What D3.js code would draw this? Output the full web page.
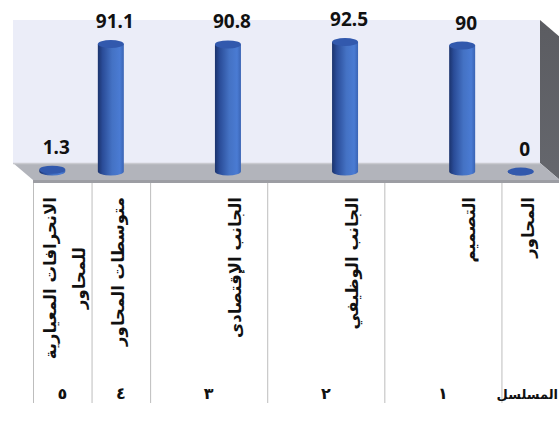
<!DOCTYPE html>
<html>
<head>
<meta charset="utf-8">
<script src="https://cdn.jsdelivr.net/npm/d3@7"></script>
<style>
  html, body { margin: 0; padding: 0; background: #fff; }
  svg { display: block; }
  .val { font-family: "Noto Sans", "Open Sans", sans-serif; font-weight: bold; font-size: 19px; fill: #111; }
  .cat { font-family: "DejaVu Sans", sans-serif; font-weight: bold; font-size: 16.5px; fill: #111; }
  .ser { font-family: "DejaVu Sans", sans-serif; font-weight: bold; font-size: 16px; fill: #111; }
  .ser.head { font-size: 13px; }
</style>
</head>
<body>
<svg id="chart" width="559" height="421"></svg>
<script>
// categories read right to left, as in the sheet
const categories = ["المحاور", "التصميم", "الجانب الوظيفي", "الجانب الإقتصادى", "متوسطات المحاور", ["الانحرافات المعيارية", "للمحاور"]];
const values = [0, 90, 92.5, 90.8, 91.1, 1.3];
const serials = ["المسلسل", "١", "٢", "٣", "٤", "٥"];
const colSpan = [1, 2, 2, 2, 1, 1];   // merged cells per column

const svg = d3.select('#chart');
const wall = {left: 13, right: 540, top: 20, bottom: 163};
const dx = 20, dy = 17;
const nSlots = d3.sum(colSpan);
const starts = [0, ...d3.cumsum(colSpan)];

const x = d3.scaleBand().domain(d3.range(nSlots)).range([wall.right, wall.left]);
const y = d3.scaleLinear().domain([0, 100]).range([wall.bottom, 23]);
const bw = x.bandwidth();

const defs = svg.append('defs');
const grad = defs.append('linearGradient').attr('id', 'cyl').attr('x1', 0).attr('x2', 1).attr('y1', 0).attr('y2', 0);
[[0, '#1b336d'], [0.18, '#2a4c98'], [0.55, '#4472c4'], [0.85, '#4a7bd3'], [1, '#3a64b4']]
  .forEach(([o, c]) => grad.append('stop').attr('offset', o).attr('stop-color', c));
const wallGrad = defs.append('linearGradient').attr('id', 'side').attr('x1', 0).attr('x2', 0).attr('y1', 0).attr('y2', 1);
[[0, '#5b5c61'], [1, '#65676d']].forEach(([o, c]) => wallGrad.append('stop').attr('offset', o).attr('stop-color', c));

// back wall
svg.append('rect').attr('x', wall.left).attr('y', wall.top)
  .attr('width', wall.right - wall.left).attr('height', wall.bottom - wall.top).attr('fill', '#ebedf8');
// right side wall
svg.append('path').attr('fill', 'url(#side)')
  .attr('d', `M${wall.right},${wall.top}L${wall.right + dx},${wall.top + dy}L${wall.right + dx},${wall.bottom + dy}L${wall.right},${wall.bottom}Z`);
// floor
svg.append('path').attr('fill', '#b2b4bb')
  .attr('d', `M${wall.left},${wall.bottom}L${wall.right},${wall.bottom}L${wall.right + dx},${wall.bottom + dy}L${wall.left + dx},${wall.bottom + dy}Z`);
svg.append('line').attr('x1', wall.left).attr('x2', wall.right).attr('y1', wall.bottom + 0.5).attr('y2', wall.bottom + 0.5)
  .attr('stroke', '#c9cad0').attr('stroke-width', 1.5);
svg.append('rect').attr('x', wall.left + dx).attr('y', wall.bottom + dy)
  .attr('width', wall.right - wall.left).attr('height', 3).attr('fill', '#9c9da3');

// table column separators
const tableTop = wall.bottom + dy + 3, tableBottom = 403;
svg.append('g').selectAll('line').data(categories).join('line')
  .attr('x1', (d, i) => x(starts[i + 1] - 1) + dx + 0.5)
  .attr('x2', (d, i) => x(starts[i + 1] - 1) + dx + 0.5)
  .attr('y1', tableTop).attr('y2', tableBottom)
  .attr('stroke', '#bdbdbd').attr('stroke-width', 1);

// cylinders
const rx = 13, ry = 4;
const cx = i => x(starts[i]) + bw / 2 + dx / 2;
const base = y(0) + dy / 2;
const bars = svg.append('g').selectAll('g').data(values).join('g');
bars.append('path').attr('fill', 'url(#cyl)')
  .attr('d', (v, i) => {
    const c = cx(i), t = y(v) + dy / 2;
    return `M${c - rx},${t}L${c - rx},${base}A${rx},${ry} 0 0 0 ${c + rx},${base}L${c + rx},${t}Z`;
  });
bars.append('ellipse')
  .attr('cx', (v, i) => cx(i)).attr('cy', v => y(v) + dy / 2)
  .attr('rx', rx).attr('ry', ry).attr('fill', '#3259ad');

// value labels
svg.append('g').selectAll('text').data(values).join('text').attr('class', 'val')
  .attr('x', (v, i) => cx(i) + 4).attr('y', v => y(v) + dy / 2 - 16)
  .attr('text-anchor', 'middle').text(v => v);

// rotated category labels
const labTop = 197;
const fx = i => x(starts[i]) + bw / 2 + dx;
categories.forEach((c, i) => {
  const lines = Array.isArray(c) ? c : [c];
  const g = svg.append('g');
  if (lines.length === 1) {
    g.append('text').attr('class', 'cat').attr('text-anchor', 'end').attr('dy', '0.35em')
      .attr('transform', `translate(${fx(i) - 3},${labTop}) rotate(-90)`).text(lines[0]);
  } else {
    const t1 = g.append('text').attr('class', 'cat').attr('text-anchor', 'end').attr('dy', '0.35em')
      .attr('transform', `translate(${fx(i) - 12},${labTop}) rotate(-90)`).text(lines[0]);
    const L = t1.node().getComputedTextLength();
    g.append('text').attr('class', 'cat').attr('text-anchor', 'middle').attr('dy', '0.35em')
      .attr('transform', `translate(${fx(i) + 17},${labTop + L / 2}) rotate(-90)`).text(lines[1]);
  }
});

// serial row
svg.append('g').selectAll('text').data(serials).join('text')
  .attr('class', (d, i) => i === 0 ? 'ser head' : 'ser')
  .attr('x', (d, i) => i === 0 ? 558 : (x(starts[i + 1] - 1) + x(starts[i]) + bw) / 2 + dx)
  .attr('y', 399)
  .attr('text-anchor', (d, i) => i === 0 ? 'end' : 'middle')
  .text(d => d);
</script>
</body>
</html>
